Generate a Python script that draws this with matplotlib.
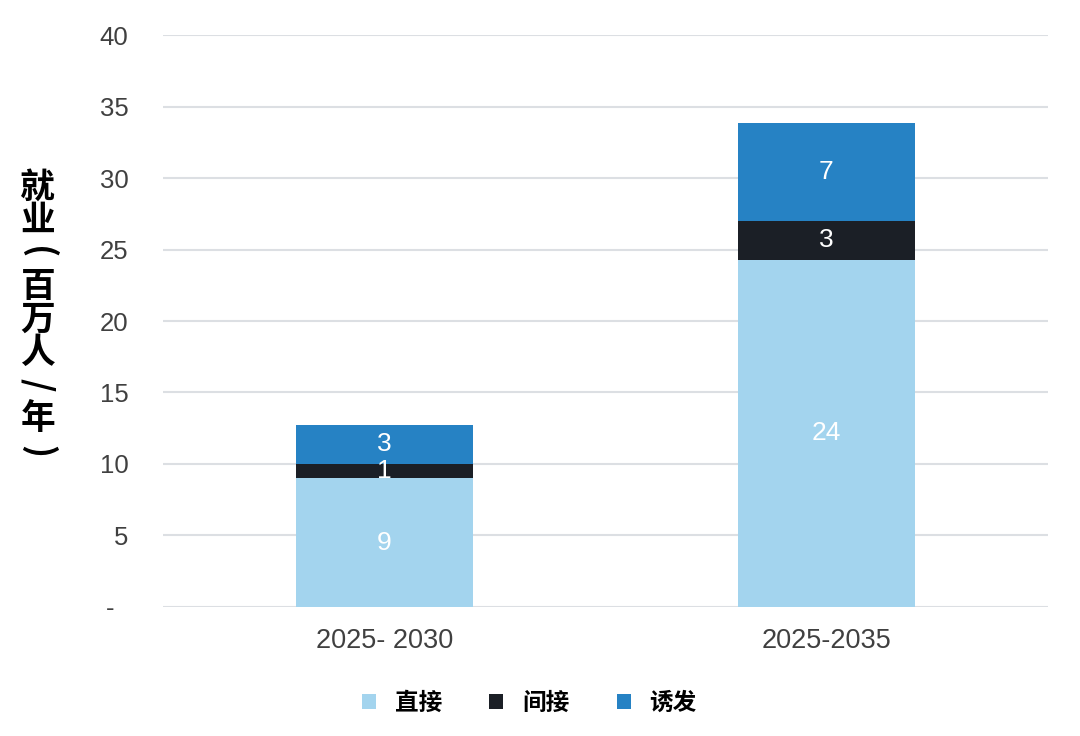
import matplotlib
matplotlib.use("Agg")
import matplotlib.pyplot as plt

plt.rcParams['font.family'] = ['Liberation Sans', 'Noto Sans CJK SC', 'DejaVu Sans']

categories = ['2025- 2030', '2025-2035']
series_names = ['直接', '间接', '诱发']
direct = [9.0, 24.3]
indirect = [1.0, 2.7]
induced = [2.75, 6.85]
colors = ['#a3d4ee', '#1b1f26', '#2682c4']
y_ticks = [0, 5, 10, 15, 20, 25, 30, 35, 40]
y_tick_labels = ['-  ', '5', '10', '15', '20', '25', '30', '35', '40']
ylabel_chars = ['就', '业', '(', '百', '万', '人', '/', '年', ')']

fig = plt.figure(figsize=(10.8, 7.36), dpi=100)
ax = fig.add_axes([0.151, 0.1753, 0.819, 0.7771])

x = list(range(len(categories)))
bottoms = [0.0] * len(categories)
for name, vals, c in zip(series_names, [direct, indirect, induced], colors):
    bars = ax.bar(x, vals, width=0.4, bottom=bottoms, color=c, label=name, zorder=3)
    for b, v, bt in zip(bars, vals, bottoms):
        ax.text(b.get_x() + b.get_width() / 2, bt + v / 2, f'{round(v):d}',
                ha='center', va='center', color='white', fontsize=19, zorder=4)
    bottoms = [bt + v for bt, v in zip(bottoms, vals)]

ax.set_xlim(-0.5, 1.5)
ax.set_ylim(0, 40)
ax.set_yticks(y_ticks)
ax.set_yticklabels(y_tick_labels)
ax.set_xticks(x)
ax.set_xticklabels(categories)
ax.tick_params(axis='both', length=0, labelcolor='#404040')
ax.tick_params(axis='y', pad=25, labelsize=18.5)
ax.tick_params(axis='x', pad=15, labelsize=19.5)
ax.yaxis.grid(True, color='#dcdfe3', linewidth=1.5, zorder=0)
for s in ax.spines.values():
    s.set_visible(False)

# vertical y label, one glyph per row; brackets and slash turned sideways
y0, step = 0.746, 0.0449
for i, ch in enumerate(ylabel_chars):
    rot = -90 if ch in '()/' else 0
    fig.text(0.035, y0 - i * step, ch, ha='center', va='center', rotation=rot,
             rotation_mode='anchor', fontsize=25, fontweight='bold', color='black',
             family=['Noto Sans CJK SC', 'DejaVu Sans'])

leg = fig.legend(loc='lower center', bbox_to_anchor=(0.49, 0.0), ncol=3, frameon=False,
                 handlelength=0.6, handleheight=0.6, handletextpad=0.8, columnspacing=2.0,
                 prop={'family': ['Noto Sans CJK SC'], 'weight': 'bold', 'size': 17})

fig.savefig('out.png', dpi=100)
